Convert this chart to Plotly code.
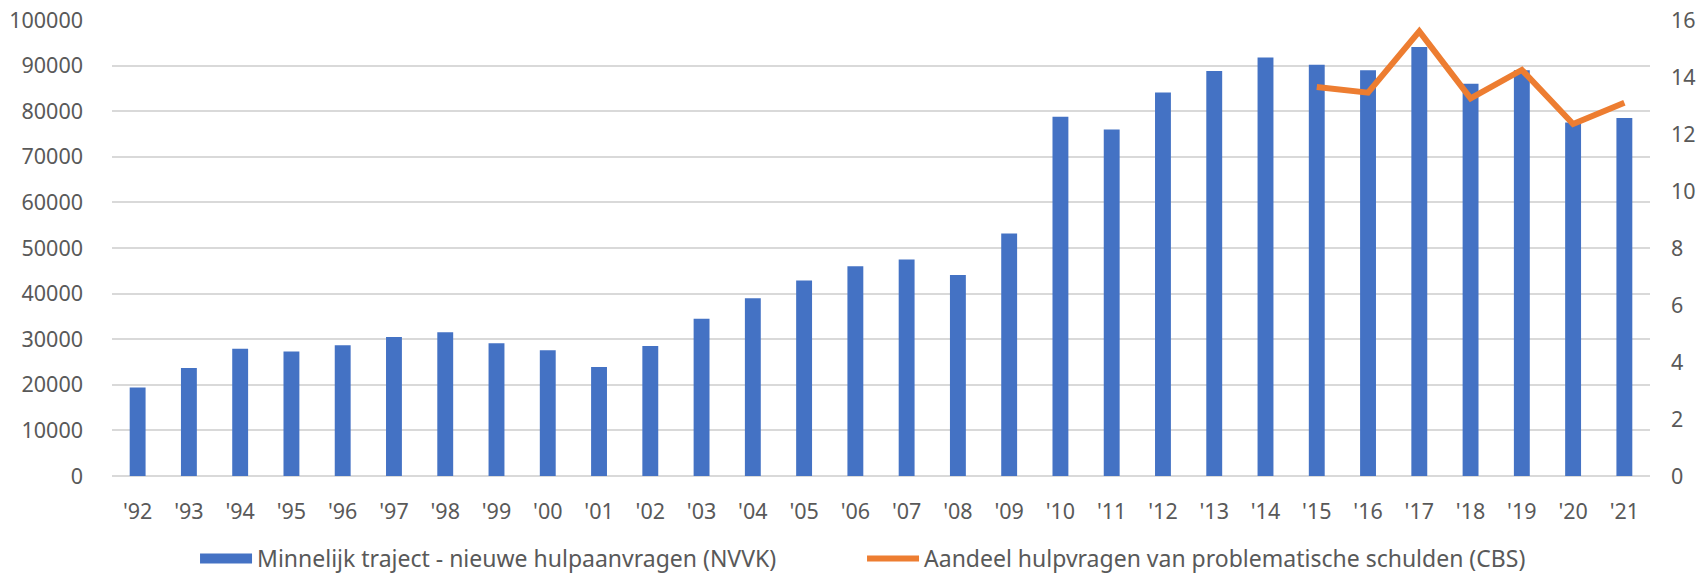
import plotly.graph_objects as go

# ---------- data ----------
years = ["'92", "'93", "'94", "'95", "'96", "'97", "'98", "'99", "'00", "'01",
         "'02", "'03", "'04", "'05", "'06", "'07", "'08", "'09", "'10", "'11",
         "'12", "'13", "'14", "'15", "'16", "'17", "'18", "'19", "'20", "'21"]
nvvk_aanvragen = [19400, 23700, 27900, 27300, 28700, 30500, 31500, 29100, 27600, 23900,
                  28500, 34500, 39000, 42900, 46000, 47500, 44100, 53200, 78800, 76000,
                  84100, 88800, 91800, 90200, 89000, 94100, 86000, 89000, 77500, 78500]
cbs_years = ["'15", "'16", "'17", "'18", "'19", "'20", "'21"]
cbs_aandeel = [13.65, 13.45, 15.6, 13.25, 14.25, 12.35, 13.1]

name_bar = 'Minnelijk traject - nieuwe hulpaanvragen (NVVK)'
name_line = 'Aandeel hulpvragen van problematische schulden (CBS)'

BLUE = '#4472C4'
ORANGE = '#ED7D31'
GRID = '#d9d9d9'
TXT = '#595959'
FONT = 'Noto Sans'
TICK = 21.5

fig = go.Figure()

# legend swatch for the bars (wide rectangle like Excel)
fig.add_trace(go.Scatter(x=[None], y=[None], mode='lines', name=name_bar,
                         line=dict(color=BLUE, width=13), hoverinfo='skip'))

fig.add_trace(go.Bar(x=years, y=nvvk_aanvragen, name=name_bar, marker_color=BLUE,
                     marker_line_width=0, showlegend=False))

fig.add_trace(go.Scatter(x=cbs_years, y=cbs_aandeel, name=name_line, mode='lines',
                         line=dict(color=ORANGE, width=6), yaxis='y2'))

fig.update_layout(
    width=1707, height=580,
    margin=dict(l=112, r=57, t=20, b=104, autoexpand=False),
    paper_bgcolor='white', plot_bgcolor='white',
    font=dict(family=FONT, size=TICK, color=TXT),
    bargap=0.69,
    showlegend=True,
    legend=dict(orientation='h', xref='container', x=0.505, xanchor='center',
                yref='container', y=0, yanchor='bottom',
                itemwidth=52, entrywidth=600, entrywidthmode='pixels',
                font=dict(size=23, color=TXT)),
    xaxis=dict(type='category', categoryorder='array', categoryarray=years,
               showgrid=False, showline=False, ticks='', ticklabelstandoff=20,
               automargin=False, tickfont=dict(size=TICK, color=TXT)),
    yaxis=dict(range=[0, 100000], dtick=10000, showgrid=True, gridcolor=GRID, gridwidth=1.5,
               zeroline=True, zerolinecolor=GRID, zerolinewidth=1.5, showline=False,
               ticks='', ticklabelstandoff=28, tickformat='d', automargin=False,
               tickfont=dict(size=TICK, color=TXT)),
    yaxis2=dict(range=[0, 16], dtick=2, overlaying='y', side='right', showgrid=False,
                zeroline=False, showline=False, ticks='', ticklabelstandoff=20,
                automargin=False, tickfont=dict(size=TICK, color=TXT)),
)

fig.write_html("out.html", config={'displayModeBar': False},
               post_script="document.body.style.margin='0';")
